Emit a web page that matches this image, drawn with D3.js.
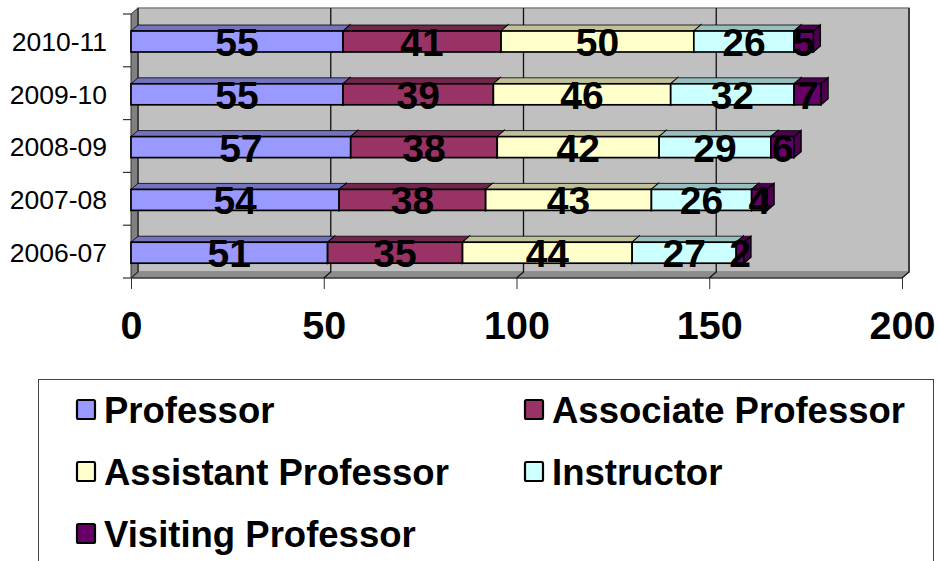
<!DOCTYPE html>
<html>
<head>
<meta charset="utf-8">
<script src="https://d3js.org/d3.v7.min.js"></script>
<style>
html, body { margin: 0; padding: 0; background: #fff; overflow: hidden; }
text { font-family: "Liberation Sans", Arial, sans-serif; fill: #000; }
</style>
</head>
<body>
<div id="chart"></div>
<script>
// top row first
var years = ["2010-11", "2009-10", "2008-09", "2007-08", "2006-07"];
var ranks = ["Professor", "Associate Professor", "Assistant Professor", "Instructor", "Visiting Professor"];
var colors = ["#9999ff", "#993366", "#ffffcc", "#ccffff", "#660066"];
var professor = [55, 55, 57, 54, 51];
var associate = [41, 39, 38, 38, 35];
var assistant = [50, 46, 42, 43, 44];
var instructor = [26, 32, 29, 26, 27];
var visiting = [5, 7, 6, 4, 2];
var xTicks = [0, 50, 100, 150, 200];

var width = 940, height = 561;

var svg = d3.select("#chart").append("svg")
    .attr("width", width)
    .attr("height", height)
    .style("display", "block");

// plot frame (front plane) and 3d depth
var plotLeft = 131, plotRight = 902, plotTop = 14, plotBottom = 278;
var depthX = 7, depthY = 6;
var barHeight = 21;

var x = d3.scaleLinear().domain([0, 200]).range([plotLeft, plotRight]);
var y = d3.scaleBand().domain(years).range([plotTop, plotBottom]).paddingInner(0).paddingOuter(0);

function pts(arr) {
    return arr.map(function(p) { return p.join(","); }).join(" ");
}

// back wall
svg.append("rect")
    .attr("x", plotLeft + depthX).attr("y", plotTop - depthY)
    .attr("width", plotRight - plotLeft).attr("height", plotBottom - plotTop)
    .attr("fill", "#c0c0c0")
    .attr("stroke", "#808080").attr("stroke-width", 1.5);

// left wall
svg.append("polygon")
    .attr("points", pts([[plotLeft, plotTop], [plotLeft + depthX, plotTop - depthY], [plotLeft + depthX, plotBottom - depthY], [plotLeft, plotBottom]]))
    .attr("fill", "#808080").attr("stroke", "#333").attr("stroke-width", 1);

// floor
svg.append("polygon")
    .attr("points", pts([[plotLeft, plotBottom], [plotLeft + depthX, plotBottom - depthY], [plotRight + depthX, plotBottom - depthY], [plotRight, plotBottom]]))
    .attr("fill", "#8c8c8c");
svg.append("line")
    .attr("x1", plotLeft).attr("x2", plotRight).attr("y1", plotBottom).attr("y2", plotBottom)
    .attr("stroke", "#333").attr("stroke-width", 1.5);

// gridlines on the wall + floor
xTicks.forEach(function(t) {
    svg.append("polyline")
        .attr("points", pts([[x(t) + depthX, plotTop - depthY], [x(t) + depthX, plotBottom - depthY], [x(t), plotBottom]]))
        .attr("fill", "none")
        .attr("stroke", t == 0 ? "#333" : "#111")
        .attr("stroke-width", 1.3);
});

// axes
var xAxis = d3.axisBottom(x).tickValues(xTicks).tickSize(11).tickPadding(22);
var xG = svg.append("g")
    .attr("transform", "translate(0," + plotBottom + ")")
    .call(xAxis);
xG.select(".domain").remove();
xG.selectAll("line").attr("stroke", "#333");
xG.selectAll("text")
    .attr("font-size", 39.5)
    .attr("font-weight", "bold")
    .style("font-family", '"Liberation Sans", Arial, sans-serif');

var yAxis = d3.axisLeft(y).tickSize(0).tickPadding(24);
var yG = svg.append("g")
    .attr("transform", "translate(" + plotLeft + ",2)")
    .call(yAxis);
yG.select(".domain").remove();
yG.selectAll("text")
    .attr("font-size", 26.5)
    .style("font-family", '"Liberation Sans", Arial, sans-serif');

// category ticks sit between the bands
d3.range(years.length + 1).forEach(function(i) {
    var ty = plotTop + i * y.step();
    svg.append("line")
        .attr("x1", plotLeft - 8).attr("x2", plotLeft)
        .attr("y1", ty).attr("y2", ty)
        .attr("stroke", "#333").attr("stroke-width", 1.2);
});

var series = [professor, associate, assistant, instructor, visiting];
var stack = d3.stack().keys(d3.range(series.length)).value(function(d, k) { return series[k][d]; })(d3.range(years.length));

function darker(c) {
    return d3.rgb(c).darker(0.8).formatHex();
}

// bars
stack.forEach(function(layer, s) {
    var g = svg.append("g");
    layer.forEach(function(d, i) {
        var x0 = x(d[0]), x1 = x(d[1]);
        var yTop = y(years[i]) + 17;
        var yBot = yTop + barHeight;

        g.append("polygon")
            .attr("points", pts([[x0, yTop], [x0 + depthX, yTop - depthY], [x1 + depthX, yTop - depthY], [x1, yTop]]))
            .attr("fill", darker(colors[s]))
            .attr("stroke", "#000").attr("stroke-width", 0.8);
        g.append("polygon")
            .attr("points", pts([[x1, yTop], [x1 + depthX, yTop - depthY], [x1 + depthX, yBot - depthY], [x1, yBot]]))
            .attr("fill", darker(colors[s]))
            .attr("stroke", "#000").attr("stroke-width", 1.4);
        g.append("rect")
            .attr("x", x0).attr("y", yTop)
            .attr("width", x1 - x0).attr("height", barHeight)
            .attr("fill", colors[s])
            .attr("stroke", "#000").attr("stroke-width", 1.7);
    });
});

// value labels on top of everything
stack.forEach(function(layer, s) {
    layer.forEach(function(d, i) {
        svg.append("text")
            .attr("x", (x(d[0]) + x(d[1])) / 2)
            .attr("y", y(years[i]) + 17 + 25)
            .attr("text-anchor", "middle")
            .attr("font-size", 39)
            .attr("font-weight", "bold")
            .text(series[s][i]);
    });
});

// legend
svg.append("rect")
    .attr("x", 38.5).attr("y", 379.5)
    .attr("width", 895).attr("height", 200)
    .attr("fill", "#fff")
    .attr("stroke", "#444").attr("stroke-width", 1);

var legendX = [77, 525];
var legendY = [400, 462, 524];
ranks.forEach(function(name, i) {
    var lx = legendX[i % 2], ly = legendY[Math.floor(i / 2)];
    svg.append("rect")
        .attr("x", lx).attr("y", ly)
        .attr("width", 18).attr("height", 19)
        .attr("rx", 1.5)
        .attr("fill", colors[i])
        .attr("stroke", "#000").attr("stroke-width", 2.2);
    svg.append("text")
        .attr("x", lx + 27).attr("y", ly + 23)
        .attr("font-size", 36.5)
        .attr("font-weight", "bold")
        .text(name);
});
</script>
</body>
</html>
